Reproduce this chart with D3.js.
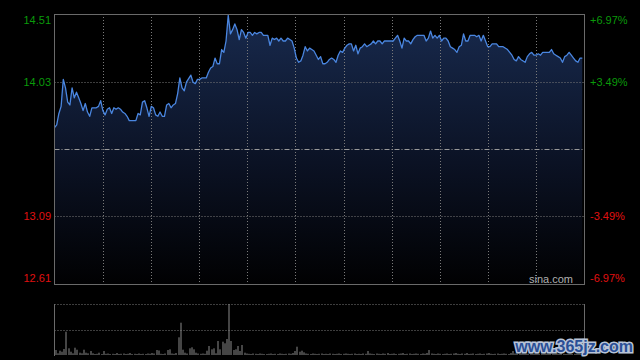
<!DOCTYPE html>
<html>
<head>
<meta charset="utf-8">
<script src="https://cdn.jsdelivr.net/npm/d3@7"></script>
<style>
  html, body { margin: 0; padding: 0; background: #000; }
  svg { display: block; font-family: "Liberation Sans", Arial, sans-serif; }
</style>
</head>
<body>
<svg id="chart" width="640" height="360"></svg>
<script>
// intraday minute index (0 = open) and price
var mins = [0,1,2,3,4,5,6,7,8,9,10,11,12,13,14,15,16,17,18,19,20,21,22,23,24,25,26,27,28,29,
  30,31,32,33,34,35,37,38,39,40,41,42,43,44,45,46,47,48,49,50,51,52,53,54,55,56,57,58,59,60,
  62,63,64,65,66,67,69,70,71,72,73,74,75,76,77,78,79,80,81,82,83,84,85,86,87,88,89,90,91,92,
  93,94,95,96,97,98,99,100,101,102,103,104,105,106,107,108,109,110,111,112,113,114,115,116,117,118,119,120,
  121,122,123,124,125,126,127,128,129,130,131,132,133,134,135,136,137,138,139,140,141,142,143,144,145,146,147,148,
  149,150,151,152,154,155,156,157,158,159,160,161,162,163,164,165,166,168,169,170,171,172,173,174,175,176,177,178,
  179,180,181,182,183,184,185,186,187,188,189,190,191,192,193,194,195,196,197,198,199,201,202,204,206,207,208,209,
  210,211,212,214,215,216,217,218,219,220,221,222,223,224,225,226,227,228,229,230,231,232,233,234,235,236,237,238,239,240];
var prices = [13.71,13.73,13.81,13.86,14.05,13.99,13.89,13.87,13.99,13.92,13.96,13.92,13.88,13.83,13.88,13.82,13.79,13.85,13.85,13.85,
  13.86,13.90,13.83,13.80,13.84,13.85,13.81,13.85,13.84,13.85,13.84,13.82,13.81,13.79,13.76,13.76,13.76,13.81,13.80,13.89,
  13.90,13.85,13.79,13.86,13.85,13.80,13.79,13.82,13.79,13.79,13.87,13.88,13.85,13.87,13.88,13.95,14.06,13.99,13.97,14.03,
  14.08,14.03,14.02,14.05,14.05,14.06,14.06,14.10,14.13,14.14,14.20,14.16,14.16,14.26,14.24,14.32,14.50,14.37,14.40,14.44,
  14.40,14.33,14.40,14.38,14.34,14.38,14.38,14.36,14.38,14.37,14.38,14.38,14.36,14.36,14.36,14.29,14.34,14.33,14.34,14.32,
  14.34,14.32,14.32,14.34,14.33,14.32,14.27,14.20,14.17,14.18,14.22,14.28,14.25,14.27,14.26,14.25,14.22,14.19,14.21,14.16,
  14.16,14.17,14.19,14.20,14.19,14.17,14.22,14.25,14.24,14.27,14.29,14.30,14.30,14.25,14.29,14.23,14.27,14.28,14.30,14.28,
  14.29,14.30,14.32,14.30,14.32,14.32,14.30,14.32,14.32,14.32,14.32,14.34,14.36,14.32,14.27,14.34,14.32,14.32,14.30,14.33,
  14.35,14.36,14.36,14.36,14.32,14.34,14.39,14.34,14.36,14.34,14.36,14.32,14.34,14.34,14.32,14.28,14.27,14.26,14.24,14.28,
  14.29,14.37,14.32,14.32,14.36,14.36,14.36,14.35,14.36,14.32,14.36,14.32,14.28,14.28,14.30,14.30,14.28,14.28,14.26,14.24,
  14.22,14.19,14.18,14.21,14.19,14.17,14.21,14.23,14.24,14.22,14.22,14.23,14.22,14.24,14.24,14.24,14.24,14.26,14.23,14.22,
  14.21,14.20,14.17,14.21,14.22,14.24,14.22,14.20,14.18,14.17,14.20,14.20];

// volume per minute (relative units)
var volumes = [50,17,43,33,60,233,67,33,17,73,53,23,17,53,23,17,40,17,10,12,
  23,10,40,12,15,10,12,10,20,10,12,15,10,12,20,10,12,10,15,10,
  12,10,15,12,20,15,50,45,12,10,15,50,57,15,12,20,177,323,53,23,
  15,67,77,57,23,15,12,15,12,43,90,57,67,17,140,57,133,117,160,510,
  140,50,57,90,40,100,23,15,12,10,15,12,10,15,12,10,10,12,15,10,
  12,10,15,12,10,12,15,12,20,40,83,33,43,27,15,12,10,15,12,10,
  12,15,10,12,10,15,12,10,12,15,10,12,15,12,10,12,15,10,12,10,
  15,12,40,15,12,10,15,12,10,15,12,20,10,12,15,10,12,15,20,10,
  12,15,10,12,15,12,10,15,12,20,50,15,12,10,15,12,10,12,15,10,
  12,15,20,12,10,15,12,20,10,12,15,10,12,15,10,12,15,20,12,10,
  12,15,10,12,15,12,10,20,40,15,12,10,15,12,10,12,15,10,12,15,
  10,12,15,12,10,15,12,10,15,12,20,12,10,15,12,10,12,15,10,12,15];

var prevClose = 13.56;
var priceTicks = [14.51, 14.03, 13.09, 12.61];
var pctTicks = ["+6.97%", "+3.49%", "-3.49%", "-6.97%"];
var totalMins = 241;
var vGridCount = 11;

const svg = d3.select("#chart");
const pLeft = 54.5, pRight = 584.5, pTop = 14, pBottom = 284;
const vTop = 304, vBottom = 355;

let x = d3.scaleLinear().domain([0, totalMins]).range([pLeft, pRight]);
let y = d3.scaleLinear().domain([12.61, 14.51]).range([pBottom, pTop]);
let vy = d3.scaleLinear().domain([0, d3.max(volumes)]).range([vBottom, vTop]);

let defs = svg.append("defs");
let grad = defs.append("linearGradient")
    .attr("id", "fillGrad")
    .attr("gradientUnits", "userSpaceOnUse")
    .attr("x1", 0).attr("x2", 0)
    .attr("y1", pTop).attr("y2", pBottom);
grad.append("stop").attr("offset", "0%").attr("stop-color", "#182a4e");
grad.append("stop").attr("offset", "55%").attr("stop-color", "#0b1224");
grad.append("stop").attr("offset", "100%").attr("stop-color", "#010102");

let series = mins.map((m, i) => [m, prices[i]]);

// area under the price line
svg.append("path")
    .datum(series)
    .attr("fill", "url(#fillGrad)")
    .attr("d", d3.area().x(d => x(d[0])).y0(pBottom).y1(d => y(d[1])));

// gridlines
let grid = svg.append("g");
d3.range(1, vGridCount).forEach(i => {
    let gx = Math.round(pLeft + (pRight - pLeft) * i / vGridCount) + 0.5;
    grid.append("line")
        .attr("x1", gx).attr("x2", gx)
        .attr("y1", pTop).attr("y2", pBottom)
        .style("stroke", "#7a7a7a")
        .style("stroke-dasharray", "1,2");
});
[priceTicks[1], priceTicks[2]].forEach(p => {
    let gy = Math.round(y(p)) + 0.5;
    grid.append("line")
        .attr("x1", pLeft).attr("x2", pRight)
        .attr("y1", gy).attr("y2", gy)
        .style("stroke", "#7a7a7a")
        .style("stroke-dasharray", "1,2");
});
let midY = Math.round(y(prevClose)) + 0.5;
grid.append("line")
    .attr("x1", pLeft).attr("x2", pRight)
    .attr("y1", midY).attr("y2", midY)
    .style("stroke", "#9a9a9a")
    .style("stroke-dasharray", "5,2,1,2");

svg.append("path")
    .datum(series)
    .attr("fill", "none")
    .attr("stroke", "#4a86e0")
    .attr("stroke-width", 1.3)
    .attr("stroke-linejoin", "round")
    .attr("d", d3.line().x(d => x(d[0])).y(d => y(d[1])));

// frame
svg.append("rect")
    .attr("x", pLeft).attr("y", pTop + 0.5)
    .attr("width", pRight - pLeft).attr("height", pBottom - pTop)
    .attr("fill", "none")
    .style("stroke", "#6a6a6a");

// axis labels
priceTicks.forEach((p, i) => {
    let ty = y(p);
    if (i == 0) ty += 6;
    if (i == priceTicks.length - 1) ty -= 6;
    let col = p > prevClose ? "#0a9a0a" : "#e01010";
    svg.append("text")
        .attr("x", 51)
        .attr("y", ty)
        .attr("dy", "0.35em")
        .style("text-anchor", "end")
        .style("font-size", "11px")
        .style("fill", col)
        .text(p.toFixed(2));
    svg.append("text")
        .attr("x", 590)
        .attr("y", ty)
        .attr("dy", "0.35em")
        .style("font-size", "11px")
        .style("fill", col)
        .text(pctTicks[i]);
});

svg.append("text")
    .attr("x", 573)
    .attr("y", 283)
    .style("text-anchor", "end")
    .style("font-size", "11px")
    .style("fill", "#b0b0b0")
    .text("sina.com");

// volume panel
let vol = svg.append("g");
[vTop + 0.5, Math.round((vTop + vBottom) / 2) + 0.5].forEach(gy => {
    vol.append("line")
        .attr("x1", pLeft).attr("x2", pRight)
        .attr("y1", gy).attr("y2", gy)
        .style("stroke", "#7a7a7a")
        .style("stroke-dasharray", "1,2");
});
[pLeft, pRight].forEach(gx => {
    vol.append("line")
        .attr("x1", gx).attr("x2", gx)
        .attr("y1", vTop).attr("y2", vBottom + 1)
        .style("stroke", "#6a6a6a");
});
vol.selectAll("rect.bar")
    .data(volumes)
    .enter().append("rect")
    .attr("class", "bar")
    .attr("x", (d, i) => Math.round(x(i)) + 0.5)
    .attr("y", d => vy(d))
    .attr("width", 1)
    .attr("height", d => vBottom - vy(d))
    .attr("fill", "#8a8a8a");

// watermark
svg.append("text")
    .attr("x", 633)
    .attr("y", 352)
    .style("text-anchor", "end")
    .style("font-size", "16px")
    .style("font-weight", "bold")
    .style("fill", "#2a4f96")
    .style("stroke", "#b8c4d8")
    .style("stroke-width", 3)
    .style("paint-order", "stroke")
    .text("www.365jz.com");
</script>
</body>
</html>
